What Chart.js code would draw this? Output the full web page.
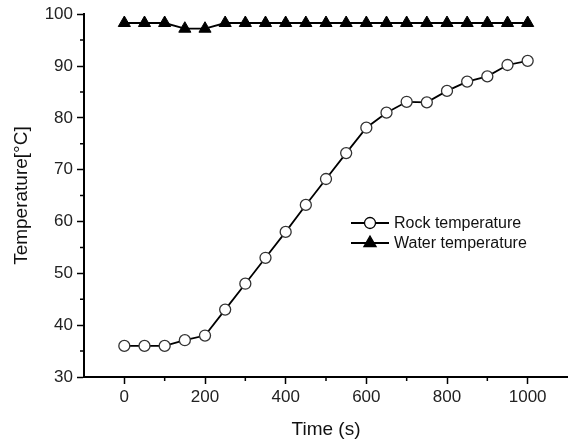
<!DOCTYPE html>
<html lang="en">
<head>
    <meta charset="UTF-8">
    <title>Rock and water temperature</title>
    <script src="https://cdn.jsdelivr.net/npm/chart.js"></script>
    <style>
        html, body { margin: 0; padding: 0; background: #fff; }
        #wrap { width: 568px; height: 446px; }
    </style>
</head>
<body>
    <div id="wrap"><canvas id="tempChart" width="568" height="446"></canvas></div>

    <script>
        // time in seconds
        var times = [0, 50, 100, 150, 200, 250, 300, 350, 400, 450, 500,
                     550, 600, 650, 700, 750, 800, 850, 900, 950, 1000];
        var rockTemp = [36, 36, 36, 37.1, 38, 43, 48, 53, 58, 63.2, 68.2,
                        73.2, 78.1, 81, 83.1, 83, 85.2, 87, 88, 90.2, 91];
        var waterTemp = [98.3, 98.3, 98.3, 97.2, 97.2, 98.3, 98.3, 98.3, 98.3, 98.3, 98.3,
                         98.3, 98.3, 98.3, 98.3, 98.3, 98.3, 98.3, 98.3, 98.3, 98.3];
        var seriesNames = ['Rock temperature', 'Water temperature'];

        var FONT = '"Liberation Sans", Arial, sans-serif';

        function toPoints(ys) {
            return times.map(function(t, i) { return { x: t, y: ys[i] }; });
        }

        // short minor ticks + legend drawn inside the plot
        var extrasPlugin = {
            id: 'extras',
            afterDraw: function(chart) {
                var ctx = chart.ctx;
                var xs = chart.scales.x, ys = chart.scales.y;
                ctx.save();
                ctx.strokeStyle = '#000';
                ctx.lineWidth = 1.5;
                ctx.beginPath();
                for (var v = 100; v < 1100; v += 200) {
                    var px = xs.getPixelForValue(v);
                    ctx.moveTo(px, xs.top);
                    ctx.lineTo(px, xs.top + 4);
                }
                for (var w = 35; w < 100; w += 10) {
                    var py = ys.getPixelForValue(w);
                    ctx.moveTo(ys.right, py);
                    ctx.lineTo(ys.right - 4, py);
                }
                ctx.stroke();

                // legend
                var rows = [223, 243];
                chart.data.datasets.forEach(function(ds, i) {
                    var y = rows[i];
                    ctx.strokeStyle = '#000';
                    ctx.lineWidth = 1.8;
                    ctx.beginPath();
                    ctx.moveTo(351, y);
                    ctx.lineTo(389, y);
                    ctx.stroke();
                    ctx.lineWidth = 1.3;
                    ctx.fillStyle = ds.pointBackgroundColor;
                    ctx.beginPath();
                    if (ds.pointStyle === 'triangle') {
                        var r = ds.pointRadius;
                        for (var k = 0; k < 3; k++) {
                            var a = k * 2 * Math.PI / 3;
                            var vx = 370 + Math.sin(a) * r, vy = y - Math.cos(a) * r;
                            if (k === 0) ctx.moveTo(vx, vy); else ctx.lineTo(vx, vy);
                        }
                        ctx.closePath();
                    } else {
                        ctx.arc(370, y, ds.pointRadius, 0, Math.PI * 2);
                    }
                    ctx.fill();
                    ctx.stroke();
                    ctx.fillStyle = '#111';
                    ctx.font = '16px ' + FONT;
                    ctx.textBaseline = 'middle';
                    ctx.textAlign = 'left';
                    ctx.fillText(ds.label, 394, y + 1);
                });
                ctx.restore();
            }
        };

        new Chart(document.getElementById('tempChart'), {
            type: 'line',
            data: {
                datasets: [{
                    label: seriesNames[0],
                    data: toPoints(rockTemp),
                    borderColor: '#000',
                    borderWidth: 1.8,
                    pointStyle: 'circle',
                    pointRadius: 5.5,
                    pointBorderWidth: 1.3,
                    pointBorderColor: '#333',
                    pointBackgroundColor: '#fff',
                    tension: 0
                }, {
                    label: seriesNames[1],
                    data: toPoints(waterTemp),
                    borderColor: '#000',
                    borderWidth: 1.8,
                    pointStyle: 'triangle',
                    pointRadius: 7,
                    pointBorderWidth: 1,
                    pointBorderColor: '#000',
                    pointBackgroundColor: '#000',
                    tension: 0
                }]
            },
            options: {
                responsive: false,
                animation: false,
                layout: { autoPadding: false, padding: { top: 13, right: 0, left: 0, bottom: 0 } },
                plugins: {
                    legend: { display: false },
                    tooltip: { enabled: false }
                },
                scales: {
                    x: {
                        type: 'linear',
                        min: -100,
                        max: 1100,
                        afterFit: function(s) { s.height = 69; s.paddingLeft = 0; s.paddingRight = 0; },
                        border: { display: true, color: '#000', width: 2 },
                        grid: {
                            drawOnChartArea: false,
                            drawTicks: true,
                            tickLength: 7,
                            tickWidth: 1.5,
                            tickColor: function(c) {
                                var v = c.tick ? c.tick.value : 1;
                                return (v % 200 === 0 && v >= 0 && v <= 1000) ? '#000' : 'rgba(0,0,0,0)';
                            }
                        },
                        ticks: {
                            stepSize: 100,
                            autoSkip: false,
                            maxRotation: 0,
                            padding: 3,
                            color: '#222',
                            font: { family: FONT, size: 17 },
                            callback: function(v) {
                                return (v % 200 === 0 && v >= 0 && v <= 1000) ? String(v) : '';
                            }
                        },
                        title: {
                            display: true,
                            text: 'Time (s)',
                            color: '#111',
                            font: { family: FONT, size: 19 },
                            padding: { top: 0, bottom: 5 }
                        }
                    },
                    y: {
                        min: 30,
                        max: 100,
                        afterFit: function(s) { s.width = 84; },
                        border: { display: true, color: '#000', width: 2 },
                        grid: {
                            drawOnChartArea: false,
                            drawTicks: true,
                            tickLength: 7,
                            tickWidth: 1.5,
                            tickColor: function(c) {
                                var v = c.tick ? c.tick.value : 0;
                                return v % 10 === 0 ? '#000' : 'rgba(0,0,0,0)';
                            }
                        },
                        ticks: {
                            stepSize: 5,
                            autoSkip: false,
                            padding: 4,
                            color: '#222',
                            font: { family: FONT, size: 17 },
                            callback: function(v) { return v % 10 === 0 ? String(v) : ''; }
                        },
                        title: {
                            display: true,
                            text: 'Temperature[°C]',
                            color: '#111',
                            font: { family: FONT, size: 19 },
                            padding: { top: 10, bottom: 0 }
                        }
                    }
                }
            },
            plugins: [extrasPlugin]
        });
    </script>
</body>
</html>
